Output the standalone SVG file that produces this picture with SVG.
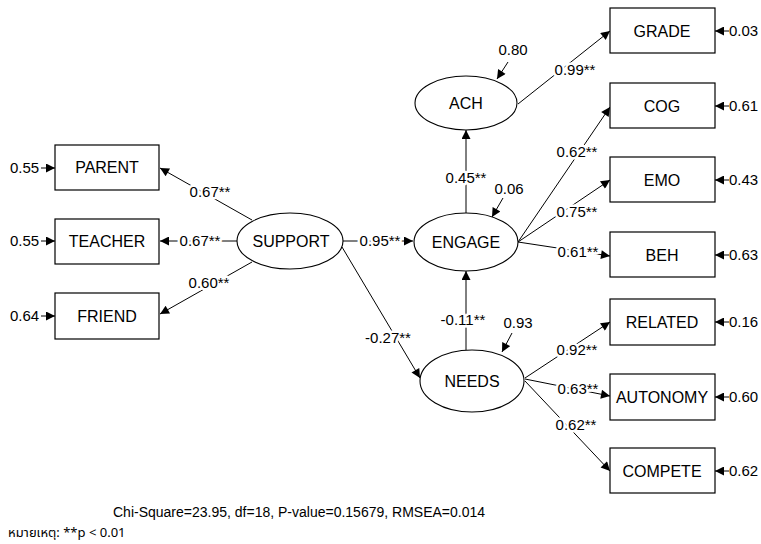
<svg xmlns="http://www.w3.org/2000/svg" width="761" height="544" viewBox="0 0 761 544">
<defs>
<marker id="ah" viewBox="0 0 10 10" refX="10" refY="5" markerWidth="12" markerHeight="9" markerUnits="userSpaceOnUse" orient="auto">
<path d="M0,0 L10,5 L0,10 z" fill="#000"/>
</marker>
</defs>
<style>
.box{fill:#fff;stroke:#000;stroke-width:1.2}
.ell{fill:#fff;stroke:#000;stroke-width:1.1}
.t{font-family:"Liberation Sans",Arial,sans-serif;font-size:16px;fill:#000;text-anchor:middle}
.e{font-family:"Liberation Sans",Arial,sans-serif;font-size:15px;fill:#000;text-anchor:middle}
.n{font-family:"Liberation Sans",Arial,sans-serif;font-size:15px;fill:#000}
.lb{font-family:"Liberation Sans",Arial,sans-serif;font-size:15px;fill:#000;text-anchor:middle;stroke:#fff;stroke-width:5;paint-order:stroke;stroke-linejoin:round}
.c{stroke:#000;stroke-width:1;fill:none;marker-end:url(#ah)}
.f{font-family:"Liberation Sans",Arial,sans-serif;font-size:14px;fill:#000}
</style>
<rect width="761" height="544" fill="#fff"/>
<g id="connectors">
<line class="c" x1="252" y1="220" x2="160" y2="168"/>
<line class="c" x1="237" y1="241" x2="160" y2="241"/>
<line class="c" x1="252" y1="262" x2="160" y2="314"/>
<line class="c" x1="343" y1="241" x2="413" y2="241"/>
<line class="c" x1="342" y1="247" x2="420" y2="378"/>
<line class="c" x1="466" y1="213" x2="466" y2="130"/>
<line class="c" x1="466" y1="350" x2="466" y2="271"/>
<line class="c" x1="518" y1="104" x2="610" y2="31"/>
<line class="c" x1="518" y1="242" x2="610" y2="107"/>
<line class="c" x1="518" y1="242" x2="610" y2="180"/>
<line class="c" x1="518" y1="242" x2="610" y2="256"/>
<line class="c" x1="525" y1="378" x2="610" y2="322"/>
<line class="c" x1="525" y1="379" x2="610" y2="396"/>
<line class="c" x1="525" y1="381" x2="610" y2="471"/>
<line class="c" x1="41" y1="168" x2="55" y2="168"/>
<line class="c" x1="41" y1="241" x2="55" y2="241"/>
<line class="c" x1="41" y1="316" x2="55" y2="316"/>
<line class="c" x1="729" y1="31" x2="715" y2="31"/>
<line class="c" x1="729" y1="106" x2="715" y2="106"/>
<line class="c" x1="729" y1="180" x2="715" y2="180"/>
<line class="c" x1="729" y1="255" x2="715" y2="255"/>
<line class="c" x1="729" y1="322" x2="715" y2="322"/>
<line class="c" x1="729" y1="397" x2="715" y2="397"/>
<line class="c" x1="729" y1="471" x2="715" y2="471"/>
<line class="c" x1="508" y1="62" x2="497" y2="79"/>
<line class="c" x1="503" y1="198" x2="492" y2="217"/>
<line class="c" x1="512" y1="333" x2="502" y2="352"/>
<text class="lb" x="210" y="197">0.67**</text>
<text class="lb" x="200" y="246">0.67**</text>
<text class="lb" x="209" y="288">0.60**</text>
<text class="lb" x="380" y="246">0.95**</text>
<text class="lb" x="388" y="343">-0.27**</text>
<text class="lb" x="466" y="183">0.45**</text>
<text class="lb" x="463" y="325">-0.11**</text>
<text class="lb" x="575" y="75">0.99**</text>
<text class="lb" x="577" y="157">0.62**</text>
<text class="lb" x="577" y="217">0.75**</text>
<text class="lb" x="578" y="257">0.61**</text>
<text class="lb" x="577" y="355">0.92**</text>
<text class="lb" x="578" y="394">0.63**</text>
<text class="lb" x="576" y="430">0.62**</text>
<text class="e" x="513" y="55">0.80</text>
<text class="e" x="509" y="194">0.06</text>
<text class="e" x="518" y="328">0.93</text>
<text class="n" x="10" y="173">0.55</text>
<text class="n" x="10" y="246">0.55</text>
<text class="n" x="10" y="321">0.64</text>
<text class="n" x="729" y="36">0.03</text>
<text class="n" x="729" y="111">0.61</text>
<text class="n" x="729" y="185">0.43</text>
<text class="n" x="729" y="260">0.63</text>
<text class="n" x="729" y="327">0.16</text>
<text class="n" x="729" y="402">0.60</text>
<text class="n" x="729" y="476">0.62</text>
</g>
<g id="PARENT"><rect class="box" x="55" y="145" width="104" height="45"/><text class="t" x="107" y="173">PARENT</text></g>
<g id="TEACHER"><rect class="box" x="55" y="219" width="104" height="45"/><text class="t" x="107" y="247">TEACHER</text></g>
<g id="FRIEND"><rect class="box" x="55" y="293" width="104" height="46"/><text class="t" x="107" y="322">FRIEND</text></g>
<g id="SUPPORT"><ellipse class="ell" cx="290" cy="241" rx="53" ry="28"/><text class="t" x="291" y="247">SUPPORT</text></g>
<g id="ENGAGE"><ellipse class="ell" cx="466" cy="242" rx="52" ry="29"/><text class="t" x="466" y="248">ENGAGE</text></g>
<g id="ACH"><ellipse class="ell" cx="466" cy="103" rx="51" ry="27"/><text class="t" x="466" y="109">ACH</text></g>
<g id="NEEDS"><ellipse class="ell" cx="472" cy="381" rx="52" ry="31"/><text class="t" x="472" y="387">NEEDS</text></g>
<g id="GRADE"><rect class="box" x="610" y="8" width="105" height="45"/><text class="t" x="662" y="37">GRADE</text></g>
<g id="COG"><rect class="box" x="610" y="83" width="105" height="45"/><text class="t" x="662" y="112">COG</text></g>
<g id="EMO"><rect class="box" x="610" y="157" width="105" height="45"/><text class="t" x="662" y="186">EMO</text></g>
<g id="BEH"><rect class="box" x="610" y="232" width="105" height="45"/><text class="t" x="662" y="261">BEH</text></g>
<g id="RELATED"><rect class="box" x="610" y="299" width="105" height="46"/><text class="t" x="662" y="328">RELATED</text></g>
<g id="AUTONOMY"><rect class="box" x="610" y="374" width="105" height="46"/><text class="t" x="662" y="403">AUTONOMY</text></g>
<g id="COMPETE"><rect class="box" x="610" y="448" width="105" height="45"/><text class="t" x="662" y="477">COMPETE</text></g>
<text class="f" x="113" y="517">Chi-Square=23.95, df=18, P-value=0.15679, RMSEA=0.014</text>
<text class="f" x="8" y="537" style="font-size:13px;font-family:'Noto Sans Thai','Liberation Sans',sans-serif">หมายเหตุ: **p &lt; 0.01</text>
</svg>
